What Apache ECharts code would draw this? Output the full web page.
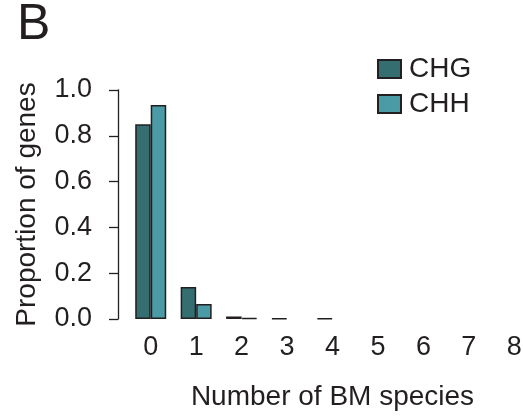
<!DOCTYPE HTML>
<html>

<head>
	<meta charset="utf-8">
	<script src="https://cdn.jsdelivr.net/npm/echarts@6/dist/echarts.min.js"></script>
	<style>
		body { margin: 0; background: #fff; }
		#bmChart { width: 523px; height: 416px; }
	</style>
</head>

<body>
	<div id="bmChart"></div>
</body>
<script type="text/javascript">
	// 数据
	var categories = ['0', '1', '2', '3', '4', '5', '6', '7', '8'];
	var chgValues = [0.85, 0.14, 0.011, 0.003, 0.003, null, null, null, null];
	var chhValues = [0.934, 0.066, 0.004, null, null, null, null, null, null];
	var yTicks = [0, 0.2, 0.4, 0.6, 0.8, 1.0];

	var font = '"Liberation Sans", Arial, Helvetica, sans-serif';
	var ink = '#231f20';

	var bmChart = echarts.init(document.getElementById('bmChart'));

	var option = {
		animation: false,
		backgroundColor: '#fff',
		graphic: [{
			type: 'text',
			left: 17,
			top: 0,
			style: {
				text: 'B',
				font: '50px ' + font,
				fill: ink
			}
		}],
		legend: {
			orient: 'vertical',
			left: 372,
			top: 50,
			itemWidth: 23,
			itemHeight: 18,
			itemGap: 7,
			icon: 'rect',
			textStyle: {
				fontFamily: font,
				fontSize: 28,
				color: ink,
				padding: [0, 0, 0, 3]
			},
			data: ['CHG', 'CHH']
		},
		grid: { //边距
			left: 128,
			top: 90,
			width: 409,
			height: 229,
			outerBoundsMode: 'none'
		},
		xAxis: {
			type: 'category',
			data: categories,
			name: 'Number of BM species',
			nameLocation: 'middle',
			nameGap: 64,
			nameTextStyle: {
				fontFamily: font,
				fontSize: 28,
				color: ink
			},
			axisLine: { show: false },
			axisTick: { show: false },
			axisLabel: {
				margin: 15,
				fontFamily: font,
				fontSize: 27,
				color: ink
			}
		},
		yAxis: {
			type: 'value',
			min: 0,
			max: 1,
			interval: 0.2,
			offset: 10,
			name: 'Proportion of genes',
			nameLocation: 'middle',
			nameGap: 77,
			nameTextStyle: {
				fontFamily: font,
				fontSize: 28,
				color: ink
			},
			splitLine: { show: false },
			axisLine: {
				show: true,
				lineStyle: { color: ink, width: 1.3 }
			},
			axisTick: {
				show: true,
				length: 9,
				lineStyle: { color: ink, width: 1.3 }
			},
			axisLabel: {
				margin: 26,
				fontFamily: font,
				fontSize: 27,
				color: ink,
				formatter: function(v) {
					return yTicks.indexOf(v) >= 0 ? v.toFixed(1) : '';
				}
			}
		},
		series: [{
			name: 'CHG',
			type: 'bar',
			barWidth: 15.5,
			barGap: '0%',
			itemStyle: { color: '#346e70', borderColor: ink, borderWidth: 1.5 },
			data: chgValues
		}, {
			name: 'CHH',
			type: 'bar',
			barWidth: 15.5,
			barGap: '0%',
			itemStyle: { color: '#4b9ba6', borderColor: ink, borderWidth: 1.5 },
			data: chhValues
		}]
	};

	bmChart.setOption(option);
</script>

</html>
